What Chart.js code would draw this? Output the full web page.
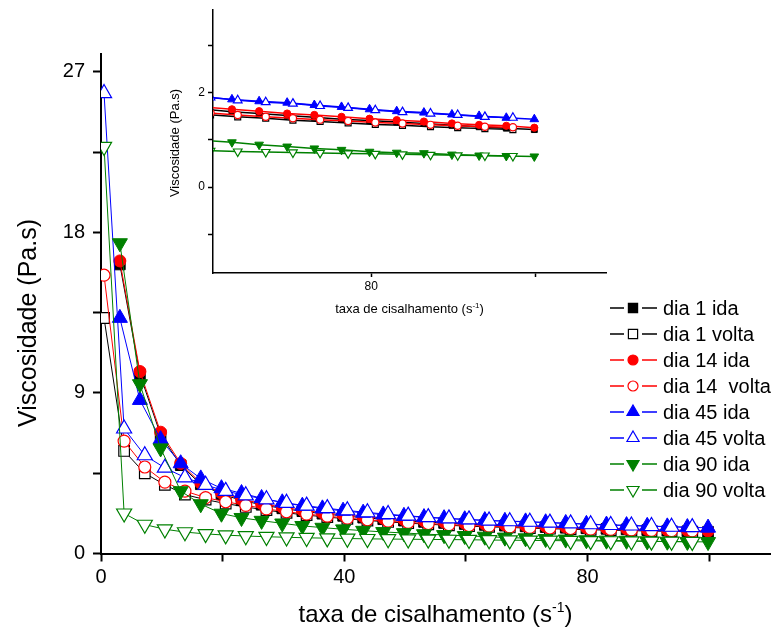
<!DOCTYPE html>
<html>
<head>
<meta charset="utf-8">
<script src="https://cdn.jsdelivr.net/npm/chart.js@4.4.1/dist/chart.umd.min.js"></script>
<style>
  body { margin: 0; background: #fff; }
  #wrap { position: relative; width: 780px; height: 637px; }
  #wrap canvas { position: absolute; left: 0; top: 0; }
</style>
</head>
<body>
<div id="wrap">
  <canvas id="main" width="780" height="637"></canvas>
  <canvas id="inset" width="780" height="637"></canvas>
</div>
<script>
// viscosity curves, forward (ida) and return (volta) sweeps
const seriesNames = ['dia 1 ida', 'dia 1 volta', 'dia 14 ida', 'dia 14  volta',
                     'dia 45 ida', 'dia 45 volta', 'dia 90 ida', 'dia 90 volta'];

const xIda = [3.1, 6.4, 9.8, 13.1, 16.4, 19.8, 23.1, 26.4, 29.8, 33.1, 36.4, 39.8, 43.1, 46.4, 49.8,
              53.1, 56.4, 59.8, 63.1, 66.4, 69.8, 73.1, 76.4, 79.8, 83.1, 86.4, 89.8, 93.1, 96.4, 99.8];
const xVolta = [0.5, 3.8, 7.2, 10.5, 13.8, 17.2, 20.5, 23.8, 27.2, 30.5, 33.8, 37.2, 40.5, 43.8, 47.2,
                50.5, 53.8, 57.2, 60.5, 63.8, 67.2, 70.5, 73.8, 77.2, 80.5, 83.8, 87.2, 90.5, 93.8, 97.2];

const dia1Ida = [16.2, 10.05, 6.65, 4.95, 3.88, 3.33, 2.98, 2.73, 2.53, 2.37, 2.23, 2.11, 2.01, 1.92, 1.84,
                 1.77, 1.71, 1.65, 1.60, 1.56, 1.52, 1.48, 1.44, 1.41, 1.38, 1.35, 1.31, 1.28, 1.25, 1.22];
const dia1Volta = [13.2, 5.75, 4.5, 3.85, 3.3, 3.02, 2.80, 2.61, 2.43, 2.28, 2.15, 2.04, 1.94, 1.85, 1.77,
                   1.70, 1.64, 1.58, 1.53, 1.49, 1.46, 1.42, 1.39, 1.36, 1.33, 1.31, 1.28, 1.26, 1.24, 1.22];
const dia14Ida = [16.4, 10.2, 6.8, 5.05, 3.95, 3.4, 3.05, 2.80, 2.60, 2.43, 2.29, 2.17, 2.07, 1.98, 1.90,
                  1.83, 1.76, 1.70, 1.65, 1.61, 1.56, 1.53, 1.49, 1.45, 1.42, 1.39, 1.35, 1.32, 1.30, 1.26];
const dia14Volta = [15.6, 6.3, 4.85, 4.0, 3.5, 3.13, 2.90, 2.70, 2.50, 2.34, 2.21, 2.09, 1.98, 1.89, 1.81,
                    1.74, 1.68, 1.62, 1.57, 1.53, 1.49, 1.46, 1.43, 1.40, 1.37, 1.35, 1.32, 1.30, 1.28, 1.27];
const dia45Ida = [13.2, 8.6, 6.4, 5.05, 4.2, 3.65, 3.38, 3.10, 2.86, 2.67, 2.52, 2.39, 2.28, 2.18, 2.10,
                  2.03, 1.97, 1.91, 1.86, 1.82, 1.79, 1.74, 1.70, 1.65, 1.61, 1.58, 1.54, 1.51, 1.47, 1.44];
const dia45Volta = [25.8, 7.0, 5.5, 4.8, 4.26, 3.84, 3.50, 3.25, 3.03, 2.83, 2.67, 2.53, 2.41, 2.30, 2.20,
                    2.11, 2.03, 1.96, 1.90, 1.84, 1.80, 1.77, 1.72, 1.68, 1.63, 1.59, 1.56, 1.53, 1.49, 1.47];
const dia90Ida = [17.4, 9.5, 5.9, 3.5, 2.77, 2.24, 2.0, 1.84, 1.69, 1.55, 1.45, 1.36, 1.28, 1.21, 1.15,
                  1.09, 1.04, 0.99, 0.95, 0.90, 0.86, 0.82, 0.79, 0.75, 0.73, 0.72, 0.69, 0.67, 0.66, 0.65];
const dia90Volta = [22.8, 2.25, 1.62, 1.36, 1.20, 1.10, 1.03, 0.98, 0.94, 0.91, 0.88, 0.86, 0.84, 0.82, 0.81,
                    0.80, 0.79, 0.78, 0.77, 0.755, 0.745, 0.735, 0.725, 0.715, 0.705, 0.695, 0.685, 0.675, 0.67, 0.66];

const seriesY = [dia1Ida, dia1Volta, dia14Ida, dia14Volta, dia45Ida, dia45Volta, dia90Ida, dia90Volta];
const seriesX = [xIda, xVolta, xIda, xVolta, xIda, xVolta, xIda, xVolta];

// axis ticks
const mainXTicks = [0, 20, 40, 60, 80, 100];
const mainXLabels = [0, 40, 80];
const mainYTicks = [0, 4.5, 9, 13.5, 18, 22.5, 27];
const mainYLabels = [0, 9, 18, 27];
const insetXTicks = [80, 100];
const insetXLabels = [80];
const insetYTicks = [-1, 0, 1, 2, 3];
const insetYLabels = [0, 2];

const yTitle = 'Viscosidade (Pa.s)';
const xTitle = 'taxa de cisalhamento (s';
const xTitleSup = '-1';

// styling
const FONT = "'Liberation Sans', Arial, sans-serif";
const colors = ['#000000', '#000000', '#ff0000', '#ff0000', '#0000ff', '#0000ff', '#008000', '#008000'];
const shapes = ['rect', 'rect', 'circle', 'circle', 'triangle', 'triangle', 'triangle', 'triangle'];
const rotations = [0, 0, 0, 0, 0, 0, 180, 180];
const filled = [true, false, true, false, true, false, true, false];

function makeDatasets(sizes, lineWidth) {
    return seriesNames.map((name, i) => ({
        label: name,
        data: seriesX[i].map((x, k) => ({ x: x, y: seriesY[i][k] })),
        borderColor: colors[i],
        borderWidth: lineWidth,
        tension: 0,
        pointStyle: shapes[i],
        pointRotation: rotations[i],
        pointRadius: sizes[shapes[i]],
        pointBorderColor: colors[i],
        pointBackgroundColor: filled[i] ? colors[i] : '#ffffff',
        pointBorderWidth: filled[i] ? 1 : 1.2,
        order: -i
    }));
}

function fixedTicks(list) {
    return scale => { scale.ticks = list.map(v => ({ value: v })); };
}

// axis titles, x title with a raised "-1"
const axisTitles = {
    id: 'axisTitles',
    afterDraw(chart, args, o) {
        const ctx = chart.ctx;
        const a = chart.chartArea;
        ctx.save();
        ctx.fillStyle = '#000';
        ctx.font = o.ySize + 'px ' + FONT;
        ctx.textAlign = 'center';
        ctx.textBaseline = 'middle';
        ctx.translate(o.yX, o.yY);
        ctx.rotate(-Math.PI / 2);
        ctx.fillText(yTitle, 0, 0);
        ctx.restore();

        ctx.save();
        ctx.fillStyle = '#000';
        ctx.textAlign = 'left';
        ctx.textBaseline = 'alphabetic';
        ctx.font = o.xSize + 'px ' + FONT;
        const w1 = ctx.measureText(xTitle).width;
        const w3 = ctx.measureText(')').width;
        ctx.font = Math.round(o.xSize * 0.6) + 'px ' + FONT;
        const w2 = ctx.measureText(xTitleSup).width;
        let x0 = (a.left + a.right) / 2 - (w1 + w2 + w3) / 2;
        ctx.font = o.xSize + 'px ' + FONT;
        ctx.fillText(xTitle, x0, o.xBase);
        ctx.font = Math.round(o.xSize * 0.6) + 'px ' + FONT;
        ctx.fillText(xTitleSup, x0 + w1, o.xBase - o.xSize * 0.42);
        ctx.font = o.xSize + 'px ' + FONT;
        ctx.fillText(')', x0 + w1 + w2, o.xBase);
        ctx.restore();
    }
};

// legend: line - marker - line, then the name
const sideLegend = {
    id: 'sideLegend',
    afterDraw(chart) {
        const ctx = chart.ctx;
        const sizes = { rect: 6.5, circle: 5, triangle: 7 };
        ctx.save();
        seriesNames.forEach((name, i) => {
            const y = 308 + i * 26;
            ctx.strokeStyle = colors[i];
            ctx.lineWidth = 1.3;
            ctx.beginPath();
            ctx.moveTo(610, y); ctx.lineTo(624, y);
            ctx.moveTo(642, y); ctx.lineTo(657, y);
            ctx.stroke();
            ctx.fillStyle = filled[i] ? colors[i] : '#ffffff';
            ctx.lineWidth = 1.2;
            Chart.helpers.drawPoint(ctx, {
                pointStyle: shapes[i], rotation: rotations[i],
                radius: sizes[shapes[i]], borderWidth: 1.2
            }, 633, y);
            ctx.fillStyle = '#000';
            ctx.font = '20px ' + FONT;
            ctx.textAlign = 'left';
            ctx.textBaseline = 'middle';
            ctx.fillText(name, 663, y + 1);
        });
        ctx.restore();
    }
};

function axis(opts) {
    return {
        type: 'linear',
        min: opts.min,
        max: opts.max,
        afterBuildTicks: fixedTicks(opts.ticks),
        afterFit: opts.fit,
        ticks: {
            autoSkip: false,
            maxRotation: 0,
            color: '#000',
            padding: opts.pad,
            font: { family: FONT, size: opts.font },
            callback: v => opts.labels.includes(v) ? String(v) : ''
        },
        grid: {
            drawOnChartArea: false,
            drawTicks: true,
            tickLength: opts.tick,
            tickWidth: opts.width,
            tickColor: '#000'
        },
        border: { color: '#000', width: opts.width }
    };
}

new Chart(document.getElementById('main'), {
    type: 'line',
    data: { datasets: makeDatasets({ rect: 7.5, circle: 6, triangle: 8.7 }, 1) },
    options: {
        responsive: false,
        animation: false,
        layout: { padding: { left: 0, top: 54, right: 2, bottom: 0 } },
        scales: {
            x: axis({ min: 0, max: 110, ticks: mainXTicks, labels: mainXLabels, font: 20, pad: 4,
                      tick: 8, width: 2, fit: s => { s.height = 83.5; } }),
            y: axis({ min: 0, max: 28, ticks: mainYTicks, labels: mainYLabels, font: 20, pad: 8,
                      tick: 8, width: 2, fit: s => { s.width = 101; } })
        },
        plugins: {
            legend: { display: false },
            tooltip: { enabled: false },
            axisTitles: { ySize: 25, yX: 29, yY: 323, xSize: 24, xBase: 622 }
        }
    },
    plugins: [axisTitles, sideLegend]
});

// zoomed view of the high shear rate end
new Chart(document.getElementById('inset'), {
    type: 'line',
    data: { datasets: makeDatasets({ rect: 4.2, circle: 3.6, triangle: 5 }, 1.5) },
    options: {
        responsive: false,
        animation: false,
        layout: { padding: { left: 163, top: 8, right: 174, bottom: 334 } },
        scales: {
            x: axis({ min: 60.8, max: 108.5, ticks: insetXTicks, labels: insetXLabels, font: 12, pad: 2,
                      tick: 4, width: 1.5, fit: s => { s.height = 30; } }),
            y: axis({ min: -1.82, max: 3.75, ticks: insetYTicks, labels: insetYLabels, font: 12, pad: 3,
                      tick: 5, width: 1.5, fit: s => { s.width = 50; } })
        },
        plugins: {
            legend: { display: false },
            tooltip: { enabled: false },
            axisTitles: { ySize: 13, yX: 175, yY: 143, xSize: 13, xBase: 313 }
        }
    },
    plugins: [axisTitles]
});
</script>
</body>
</html>
